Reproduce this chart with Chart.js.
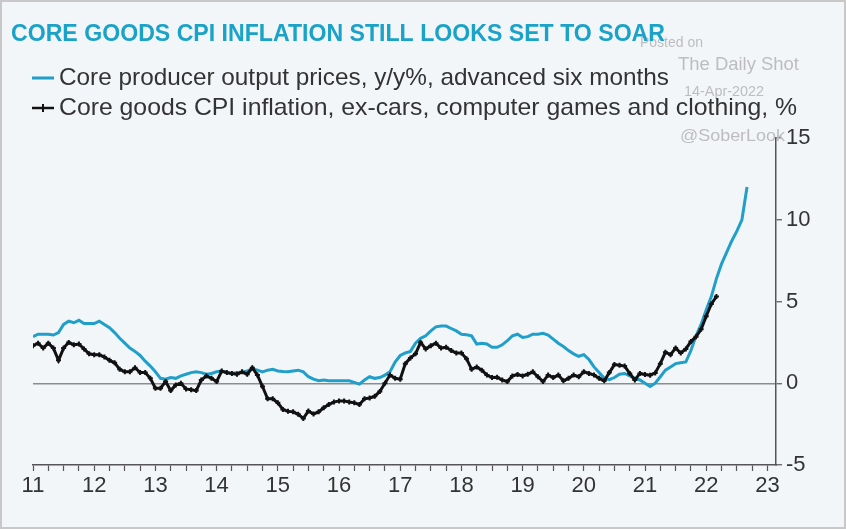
<!DOCTYPE html>
<html>
<head>
<meta charset="utf-8">
<script src="https://cdn.jsdelivr.net/npm/chart.js@4.4.0/dist/chart.umd.min.js"></script>
<style>
  html, body { margin: 0; padding: 0; background: #f3f6f8; }
  #wrap { width: 846px; height: 529px; }
</style>
</head>
<body>
<div id="wrap"><canvas id="chart"></canvas></div>
<script>
// monthly data, first point = Jan 2011
var startYear = 2011;
var yearTicks = [2011, 2012, 2013, 2014, 2015, 2016, 2017, 2018, 2019, 2020, 2021, 2022, 2023];
var yTicks = [-5, 0, 5, 10, 15];

var titleText = "CORE GOODS CPI INFLATION STILL LOOKS SET TO SOAR";
var seriesNames = [
  "Core producer output prices, y/y%, advanced six months",
  "Core goods CPI inflation, ex-cars, computer games and clothing, %"
];

// Core producer output prices, y/y%, advanced six months (Jan 2011 - Sep 2022)
var ppiValues = [
  2.85, 3.0, 3.0, 3.0, 2.95, 3.1, 3.6, 3.8, 3.7, 3.85, 3.65, 3.65,
  3.65, 3.8, 3.6, 3.4, 3.1, 2.75, 2.45, 2.15, 1.95, 1.7, 1.35, 1.05,
  0.7, 0.3, 0.25, 0.35, 0.3, 0.45, 0.55, 0.65, 0.7, 0.65, 0.55, 0.6,
  0.7, 0.75, 0.65, 0.6, 0.65, 0.65, 0.75, 0.9, 0.8, 0.7, 0.8, 0.85,
  0.75, 0.72, 0.7, 0.75, 0.8, 0.7, 0.4, 0.25, 0.15, 0.2, 0.15, 0.15,
  0.15, 0.15, 0.15, 0.05, -0.05, 0.2, 0.4, 0.3, 0.35, 0.5, 0.7, 1.3,
  1.7, 1.85, 1.95, 2.45, 2.75, 2.9, 3.2, 3.45, 3.5, 3.5, 3.35, 3.2,
  3.0, 2.97, 2.9, 2.4, 2.45, 2.4, 2.2, 2.2, 2.35, 2.6, 2.9, 3.0,
  2.8, 2.85, 3.0, 3.0, 3.05, 2.95, 2.7, 2.45, 2.25, 2.0, 1.8, 1.65,
  1.75, 1.45, 1.0, 0.65, 0.3, 0.22, 0.35, 0.55, 0.6, 0.45, 0.3, 0.2,
  0.0, -0.2, 0.0, 0.4, 0.8, 1.0, 1.2, 1.25, 1.3, 2.0, 2.9, 3.6,
  4.5, 5.3, 6.4, 7.3, 8.0, 8.7, 9.3, 10.0, 12.0
];

// Core goods CPI inflation, ex-cars, computer games and clothing, % (Jan 2011 - Mar 2022)
var cpiValues = [
  2.3, 2.45, 2.15, 2.45, 2.15, 1.4, 2.15, 2.5, 2.35, 2.4, 2.1, 1.8,
  1.75, 1.75, 1.6, 1.4, 1.25, 0.85, 0.7, 0.7, 0.95, 0.65, 0.65, 0.3,
  -0.3, -0.3, 0.1, -0.45, -0.1, 0.0, -0.35, -0.4, -0.45, 0.2, 0.45, 0.3,
  0.1, 0.75, 0.65, 0.6, 0.55, 0.7, 0.55, 0.95, 0.5, -0.2, -0.95, -0.95,
  -1.2, -1.6, -1.72, -1.75, -1.9, -2.15, -1.7, -1.88, -1.75, -1.5, -1.3, -1.15,
  -1.08, -1.08, -1.15, -1.2, -1.3, -0.95, -0.9, -0.8, -0.5, 0.0, 0.5, 0.3,
  0.25, 1.2, 1.55, 1.8, 2.5, 2.1, 2.3, 2.45, 2.15, 2.2, 2.0, 1.85,
  1.85, 1.5, 0.85, 1.0, 0.8, 0.5, 0.35, 0.37, 0.2, 0.1, 0.45, 0.53,
  0.45, 0.55, 0.7, 0.4, 0.1, 0.5, 0.35, 0.5, 0.15, 0.3, 0.5, 0.4,
  0.7, 0.6, 0.5, 0.3, 0.15, 0.65, 1.14, 1.1, 1.05, 0.6, 0.2, 0.6,
  0.53, 0.49, 0.63, 1.2, 1.9, 1.75, 2.15, 1.85, 2.1, 2.55, 2.85, 3.3,
  4.1, 4.85, 5.3
];

var blue = '#1f9fc9';
var black = '#111111';
var fontFam = "'Liberation Sans', Arial, sans-serif";

function toPoints(vals) {
  return vals.map(function (v, i) { return { x: startYear + i / 12, y: v }; });
}

// fit a text line to a given width (the original font is a condensed face)
function fitText(ctx, txt, x, y, width) {
  var w = ctx.measureText(txt).width;
  ctx.save();
  ctx.translate(x, y);
  ctx.scale(width / w, 1);
  ctx.fillText(txt, 0, 0);
  ctx.restore();
}

// background, title, legend and watermark
var headerPlugin = {
  id: 'header',
  beforeDraw: function (chart) {
    var ctx = chart.ctx;
    ctx.save();
    ctx.fillStyle = '#f3f6f8';
    ctx.fillRect(0, 0, chart.width, chart.height);
    ctx.strokeStyle = '#c8c8c8';
    ctx.lineWidth = 2;
    ctx.strokeRect(1, 1, chart.width - 2, chart.height - 2);
    ctx.restore();
  },
  afterDraw: function (chart) {
    var ctx = chart.ctx;
    ctx.save();

    // watermark
    ctx.fillStyle = '#bdbdbd';
    ctx.textBaseline = 'middle';
    ctx.font = '14px ' + fontFam;
    ctx.fillText('Posted on', 640, 43);
    ctx.font = '18px ' + fontFam;
    fitText(ctx, 'The Daily Shot', 678, 65, 121);
    ctx.font = '14px ' + fontFam;
    fitText(ctx, '14-Apr-2022', 684, 92, 80);
    ctx.font = '17px ' + fontFam;
    fitText(ctx, '@SoberLook', 680, 136, 105);

    // title
    ctx.fillStyle = '#1aa2c8';
    ctx.font = 'bold 23px ' + fontFam;
    ctx.textBaseline = 'alphabetic';
    fitText(ctx, titleText, 11, 41, 654);

    // legend
    ctx.textBaseline = 'middle';
    ctx.font = '24px ' + fontFam;
    ctx.fillStyle = '#333333';
    fitText(ctx, seriesNames[0], 59, 78, 610);
    fitText(ctx, seriesNames[1], 59, 108, 738);

    ctx.strokeStyle = blue;
    ctx.lineWidth = 3;
    ctx.beginPath();
    ctx.moveTo(32, 78); ctx.lineTo(54, 78);
    ctx.stroke();

    ctx.strokeStyle = black;
    ctx.lineWidth = 2.5;
    ctx.beginPath();
    ctx.moveTo(32, 108); ctx.lineTo(54, 108);
    ctx.stroke();
    ctx.lineWidth = 2;
    ctx.beginPath();
    ctx.moveTo(43, 104); ctx.lineTo(43, 112);
    ctx.stroke();

    ctx.restore();
  }
};

var ctxC = document.getElementById('chart').getContext('2d');
var myChart = new Chart(ctxC, {
  type: 'line',
  data: {
    datasets: [
      {
        label: seriesNames[1],
        data: toPoints(cpiValues),
        borderColor: black,
        backgroundColor: black,
        borderWidth: 3,
        pointStyle: 'cross',
        pointRadius: 2.5,
        pointBorderWidth: 2,
        pointBorderColor: black,
        tension: 0
      },
      {
        label: seriesNames[0],
        data: toPoints(ppiValues),
        borderColor: blue,
        backgroundColor: blue,
        borderWidth: 3,
        pointRadius: 0,
        tension: 0
      }
    ]
  },
  options: {
    responsive: true,
    maintainAspectRatio: false,
    animation: false,
    layout: { padding: { top: 138, left: 33, right: 0, bottom: 0 } },
    plugins: {
      legend: { display: false },
      title: { display: false },
      tooltip: { enabled: false }
    },
    scales: {
      x: {
        type: 'linear',
        min: 2011,
        max: 2023.14,
        afterBuildTicks: function (s) {
          var t = [];
          for (var q = 0; q <= 48; q++) t.push({ value: startYear + q / 4 });
          s.ticks = t;
        },
        afterFit: function (s) { s.height = 64; },
        ticks: {
          autoSkip: false,
          maxRotation: 0,
          padding: 2,
          color: '#333333',
          font: { family: fontFam, size: 22 },
          callback: function (v) {
            return yearTicks.indexOf(v) >= 0 ? String(v - 2000) : '';
          }
        },
        grid: {
          drawOnChartArea: false,
          drawTicks: true,
          tickLength: 6,
          tickColor: '#555555',
          tickWidth: 1.2
        },
        border: { display: true, color: '#555555', width: 1.5 }
      },
      y: {
        position: 'right',
        min: -5,
        max: 15,
        afterBuildTicks: function (s) {
          s.ticks = yTicks.map(function (v) { return { value: v }; });
        },
        afterFit: function (s) { s.width = 70; },
        ticks: {
          padding: 4,
          color: '#333333',
          font: { family: fontFam, size: 22 }
        },
        grid: {
          drawOnChartArea: true,
          color: function (c) { return c.tick && c.tick.value === 0 ? '#8c8c8c' : 'rgba(0,0,0,0)'; },
          lineWidth: 1.5,
          tickLength: 6,
          tickColor: '#555555',
          tickWidth: 1.2
        },
        border: { display: true, color: '#555555', width: 1.5 }
      }
    }
  },
  plugins: [headerPlugin]
});
</script>
</body>
</html>
